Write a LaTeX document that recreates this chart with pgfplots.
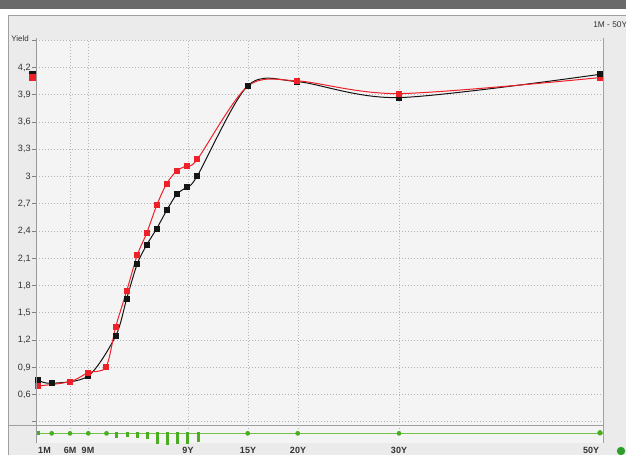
\documentclass[border=0pt]{standalone}
\usepackage{pgfplots}
\pgfplotsset{compat=1.18}
\usepackage{fontspec}
\setmainfont{Liberation Sans}
\definecolor{panel}{HTML}{EBEBEB}
\definecolor{plotbg}{HTML}{F4F4F4}
\definecolor{framec}{HTML}{A0A0A0}
\definecolor{gridc}{HTML}{B4B4B4}
\definecolor{topbar}{HTML}{6A6A6A}
\definecolor{serred}{HTML}{EE2028}
\definecolor{serblack}{HTML}{151515}
\definecolor{glin}{HTML}{72C04A}
\definecolor{gbar}{HTML}{4BAE22}
\definecolor{gdot}{HTML}{2E9E2A}
\definecolor{txt}{HTML}{333333}

\begin{document}
\begin{tikzpicture}[x=0.6pt,y=0.6pt]
\path[use as bounding box] (0,0) rectangle (626,455);
\fill[white] (0,0) rectangle (626,455);
\fill[topbar] (0,446) rectangle (626,455);
\fill[panel] (8,0) rectangle (626,439);
\draw[framec, line width=0.6pt] (8,0) -- (8,439) -- (626,439);
\fill[plotbg] (36,12) rectangle (603,29);

% yield curves; x in screen units of the original tenor scale,
% the spread strip sits below ymin in the same axis
\begin{axis}[
  at={(36,29)}, anchor=south west, scale only axis,
  width=340.2pt, height=232.98pt,
  xmin=36, xmax=603, ymin=0.226, ymax=4.5,
  clip=false,
  axis background/.style={fill=plotbg},
  axis line style={draw=none},
  xtick={70,88,188,248,298,399},
  xticklabels={6M,9M,9Y,15Y,20Y,30Y},
  extra x ticks={44.5,591},
  extra x tick labels={1M,50Y},
  extra x tick style={grid=none},
  xtick style={draw=none},
  xticklabel style={font=\bfseries\fontsize{5.4}{6}\selectfont, text=txt, inner sep=0pt, yshift=-8.4pt},
  ytick={0.3,0.6,0.9,1.2,1.5,1.8,2.1,2.4,2.7,3,3.3,3.6,3.9,4.2,4.5},
  yticklabels={{},{0,6},{0,9},{1,2},{1,5},{1,8},{2,1},{2,4},{2,7},{3},{3,3},{3,6},{3,9},{4,2},{}},
  ytick pos=left, tick align=outside, major tick length=2.4pt,
  ytick style={draw=gray, line width=0.6pt},
  yticklabel style={font=\fontsize{5.5}{6}\selectfont, text=txt, inner sep=0.6pt},
  grid=major,
  major grid style={gridc, line width=0.6pt, dash pattern=on 0.6pt off 1.2pt},
  mark size=1.5pt,
]
\addplot[serblack, line width=0.6pt, smooth, tension=0.5, mark=square*, mark options={solid, fill=serblack}]
  coordinates {(38.3,0.758) (51.7,0.725) (88.3,0.806) (115.7,1.247) (126.7,1.657)
  (137.3,2.042) (146.7,2.248) (156.7,2.428) (166.7,2.629) (176.7,2.805) (186.7,2.887)
  (197.3,3.008) (247.7,3.999) (297.3,4.046) (399.3,3.870) (600,4.126)};
\addplot[serred, line width=0.6pt, smooth, tension=0.5, mark=square*, mark options={solid, fill=serred},
  mark indices={1,2,3,4,5,6,7,8,9,10,11,12,13,15,16,17}]
  coordinates {(38.3,0.696) (70,0.743) (88.3,0.843) (106,0.905) (115.7,1.346)
  (126.7,1.742) (137.3,2.138) (146.7,2.378) (156.7,2.684) (166.7,2.923) (176.7,3.063)
  (186.7,3.121) (197.3,3.191) (247.7,3.995) (297.3,4.054) (399.3,3.914) (600,4.09)};
\addplot[only marks, mark=square*, serblack] coordinates {(600,4.126)};
\addplot[only marks, mark=square*, serblack, mark size=1.7pt] coordinates {(32,4.123)};
\addplot[only marks, mark=square*, serred, mark size=1.7pt] coordinates {(32,4.09)};

% spread strip
\addplot[glin, line width=1pt] coordinates {(36,0.1743) (603,0.1743)};
\addplot[gbar, line width=1.8pt, unbounded coords=jump] coordinates {
  (38.8,0.204) (38.8,0.152) (38.8,nan)
  (116.4,0.188) (116.4,0.127) (116.4,nan)
  (127.3,0.188) (127.3,0.135) (127.3,nan)
  (137.6,0.186) (137.6,0.127) (137.6,nan)
  (147.2,0.186) (147.2,0.108) (147.2,nan)
  (157.3,0.186) (157.3,0.061) (157.3,nan)
  (167.5,0.186) (167.5,0.047) (167.5,nan)
  (177.5,0.186) (177.5,0.053) (177.5,nan)
  (187.5,0.186) (187.5,0.061) (187.5,nan)
  (198,0.186) (198,0.080)};
\addplot[only marks, mark=*, gbar, mark size=1.2pt] coordinates {(51.7,0.1743) (70,0.1743)
  (88.3,0.1743) (106.5,0.1743) (247.7,0.1743) (297.7,0.1743) (399,0.1743)};
\addplot[only marks, mark=*, gbar, mark size=1.4pt] coordinates {(600,0.18)};
\end{axis}

\draw[gray!80, line width=0.6pt] (36,12) -- (36,417.3);
\draw[framec, line width=0.6pt] (603,12) -- (603,417.3);
\draw[framec, line width=0.6pt] (8,29) -- (603,29);
\node[anchor=west, font=\fontsize{4.8}{5}\selectfont, text=txt, inner sep=0pt] at (11,416) {Yield};
\node[anchor=west, font=\fontsize{5}{5}\selectfont, text=txt, inner sep=0pt] at (593,430) {1M - 50Y};
\fill[gdot] (621,4) circle (4.2);
\end{tikzpicture}
\end{document}
